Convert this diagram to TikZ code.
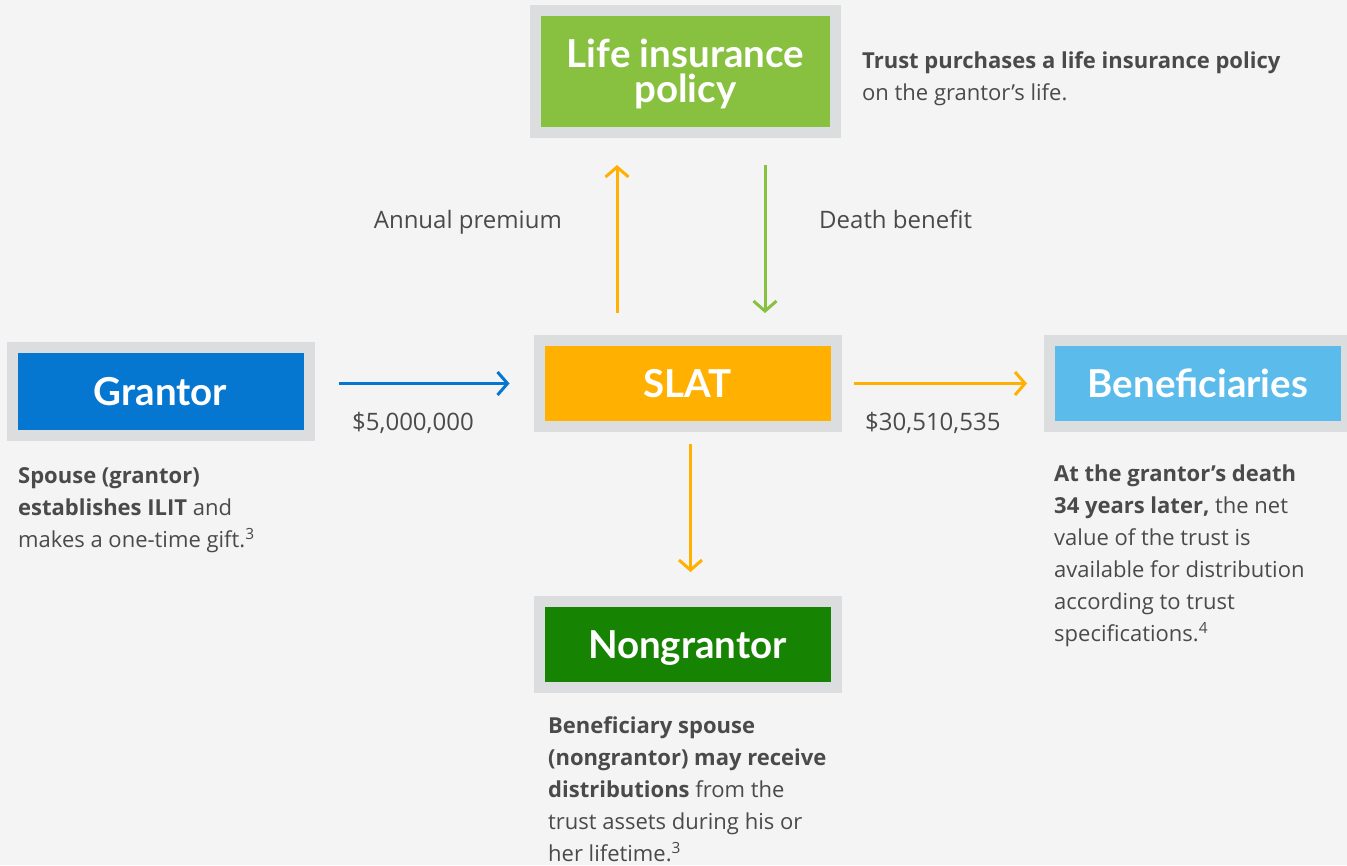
\documentclass[tikz,border=0pt]{standalone}
\usepackage{fontspec}
\setmainfont{Open Sans}
\newfontfamily\boxfont{Lato}
\usetikzlibrary{arrows.meta}

\definecolor{bg}{HTML}{F4F4F4}
\definecolor{frame}{HTML}{DCDDDE}
\definecolor{grantorblue}{HTML}{0677D1}
\definecolor{slatorange}{HTML}{FFB000}
\definecolor{benblue}{HTML}{5BBBEB}
\definecolor{lifegreen}{HTML}{88C040}
\definecolor{nongreen}{HTML}{168402}
\definecolor{ink}{HTML}{4A4A4A}

\begin{document}
\begin{tikzpicture}[x=1pt, y=-1pt,
  box/.style={fill=#1, draw=frame, line width=11pt, minimum width=297pt,
    minimum height=86pt, inner sep=0pt, text=white, align=center,
    text height=27.5pt, text depth=0pt,
    font=\boxfont\fontsize{38.5}{35}\selectfont\bfseries},
  flow/.style={line width=3pt, -{Straight Barb[length=10pt, width=23pt]}},
  caption/.style={anchor=north west, inner sep=0pt, align=left, text=ink,
    font=\fontsize{22}{32}\selectfont},
  label/.style={inner sep=0pt, text=ink, font=\fontsize{24}{30}\selectfont}]

\useasboundingbox[fill=bg] (0,0) rectangle (1347,865);

% boxes
\node[box=grantorblue, minimum height=88pt] (grantor) at (160.5,391.5) {Grantor};
\node[box=slatorange] (slat) at (687.5,383.5) {SLAT};
\node[box=benblue] (ben) at (1198,383.5) {Beneficiaries};
\node[box=lifegreen, minimum width=300pt, minimum height=122pt,
      text height=62pt] (life) at (685.5,71.5) {Life insurance\\policy};
\node[box=nongreen] (non) at (687.5,644.5) {Nongrantor};

% money flows
\draw[flow, draw=grantorblue, shorten <=24pt, shorten >=24pt]
  (grantor.east |- slat.west) -- (slat.west);
\draw[flow, draw=slatorange, shorten <=12pt, shorten >=17pt]
  (slat.east) -- (ben.west);
\draw[flow, draw=slatorange, shorten <=22pt, shorten >=27pt]
  ([xshift=-70.5pt]slat.north) -- ([xshift=-70.5pt]slat.north |- life.south);
\draw[flow, draw=lifegreen, shorten <=27pt, shorten >=22pt]
  ([xshift=77.5pt]slat.north |- life.south) -- ([xshift=77.5pt]slat.north);
\draw[flow, draw=slatorange, shorten <=12pt, shorten >=24pt]
  ([xshift=3pt]slat.south) -- ([xshift=3pt]non.north |- non.north);

% flow labels
\node[label, anchor=base east] (premium) at (562,228) {Annual premium};
\node[label, anchor=base west] (death) at (819,228) {Death benefit};
\node[label, anchor=base west] (gift) at (352,430) {\$5,000,000};
\node[label, anchor=base west] (payout) at (865,430) {\$30,510,535};

% explanations
\node[caption] (lifetxt) at (862,45.6)
  {\strut\textbf{Trust purchases a life insurance policy}\\on the grantor’s life.};
\node[caption] (grantortxt) at (18,460.6)
  {\strut\textbf{Spouse (grantor)}\\\textbf{establishes ILIT} and\\makes a one-time gift.\textsuperscript{3}};
\node[caption] (bentxt) at (1054,458.6)
  {\strut\textbf{At the grantor’s death}\\\textbf{34 years later,} the net\\value of the trust is\\available for distribution\\according to trust\\specifications.\textsuperscript{4}};
\node[caption] (nontxt) at (548,710.6)
  {\strut\textbf{Beneficiary spouse}\\\textbf{(nongrantor) may receive}\\\textbf{distributions} from the\\trust assets during his or\\her lifetime.\textsuperscript{3}};

\end{tikzpicture}
\end{document}
